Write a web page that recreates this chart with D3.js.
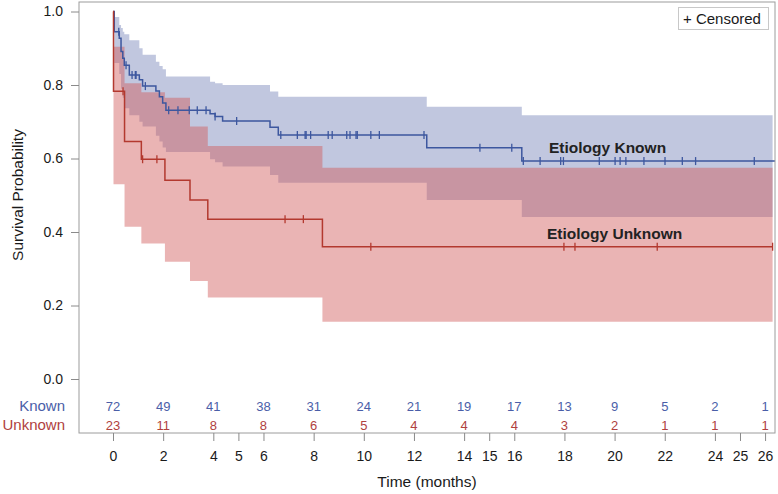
<!DOCTYPE html>
<html><head><meta charset="utf-8">
<script src="https://cdn.jsdelivr.net/npm/d3@7"></script>
<style>body{margin:0;background:#fff}svg{display:block;font-family:"Liberation Sans",Arial,sans-serif}</style>
</head><body><svg id="c" width="778" height="494"></svg>
<script>
// ---- data ----
const knownTime  = [0, 0.05, 0.25, 0.32, 0.39, 0.45, 0.65, 1.05, 1.18, 1.71, 1.85, 1.98, 2.11, 3.87, 4.07, 4.37, 6.26, 6.59, 12.51, 16.30];
const knownSurv  = [1, 0.945, 0.927, 0.891, 0.873, 0.854, 0.827, 0.814, 0.797, 0.784, 0.768, 0.751, 0.731, 0.722, 0.714, 0.702, 0.685, 0.664, 0.629, 0.593];
const knownUpper = [1, 0.985, 0.963, 0.955, 0.945, 0.938, 0.922, 0.900, 0.882, 0.863, 0.852, 0.843, 0.823, 0.809, 0.805, 0.800, 0.782, 0.768, 0.741, 0.718];
const knownLower = [1, 0.860, 0.830, 0.790, 0.765, 0.737, 0.718, 0.700, 0.687, 0.662, 0.646, 0.630, 0.618, 0.598, 0.590, 0.578, 0.555, 0.534, 0.487, 0.441];
const knownCensored = [0.23, 0.52, 0.76, 0.89, 0.92, 1.29, 2.22, 2.59, 3.04, 3.36, 3.71, 4.07, 4.93, 6.69, 7.35, 7.66, 7.70, 7.88, 8.58, 8.74, 9.32, 9.45, 9.69, 9.74, 10.28, 10.62, 12.40, 14.63, 15.90, 16.36, 17.03, 17.85, 17.96, 19.39, 20.02, 20.22, 20.45, 21.17, 22.01, 22.70, 23.23, 25.57];
const knownEnd = 26.4, knownBandEnd = 26.3;

const unknownTime  = [0, 0.02, 0.46, 1.13, 2.07, 3.07, 3.78, 8.35];
const unknownSurv  = [1, 0.783, 0.646, 0.598, 0.541, 0.487, 0.435, 0.360];
const unknownUpper = [1, 0.904, 0.805, 0.780, 0.765, 0.687, 0.634, 0.575];
const unknownLower = [1, 0.530, 0.414, 0.369, 0.319, 0.267, 0.222, 0.156];
const unknownCensored = [0.40, 1.18, 1.75, 6.86, 7.59, 10.28, 17.98, 18.42, 21.70, 26.30];
const unknownEnd = 26.3;

const riskTimes = [0, 2, 4, 6, 8, 10, 12, 14, 16, 18, 20, 22, 24, 26];
const riskKnown = [72, 49, 41, 38, 31, 24, 21, 19, 17, 13, 9, 5, 2, 1];
const riskUnknown = [23, 11, 8, 8, 6, 5, 4, 4, 4, 3, 2, 1, 1, 1];

const xTicks = [0, 2, 4, 5, 6, 8, 10, 12, 14, 15, 16, 18, 20, 22, 24, 25, 26];
const yTicks = [0, 0.2, 0.4, 0.6, 0.8, 1.0];

// ---- chart ----
const svg = d3.select("#c");
const x = d3.scaleLinear().domain([-1.356, 26.396]).range([79, 775]);
const y = d3.scaleLinear().domain([0, 1]).range([379, 11.5]);

const blueLine = "#3d579f", redLine = "#b3392f";

function rows(t, s, lo, hi, end) {
  const r = t.map((d, i) => ({t: d, s: s[i], lo: lo ? lo[i] : null, hi: hi ? hi[i] : null}));
  const last = r[r.length - 1];
  r.push({t: end, s: last.s, lo: last.lo, hi: last.hi});
  return r;
}
const area = d3.area().curve(d3.curveStepAfter).x(d => x(d.t)).y0(d => y(d.lo)).y1(d => y(d.hi));
const line = d3.line().curve(d3.curveStepAfter).x(d => x(d.t)).y(d => y(d.s));

svg.append("path").datum(rows(knownTime, knownSurv, knownLower, knownUpper, knownBandEnd))
  .attr("d", area).attr("fill", "#c1c7df");
svg.append("path").datum(rows(unknownTime, unknownSurv, unknownLower, unknownUpper, unknownEnd))
  .attr("d", area).attr("fill", "rgb(208,88,88)").attr("fill-opacity", 0.45);

svg.append("path").datum(rows(knownTime, knownSurv, null, null, knownEnd))
  .attr("d", line).attr("fill", "none").attr("stroke", blueLine).attr("stroke-width", 1.5);
svg.append("path").datum(rows(unknownTime, unknownSurv, null, null, unknownEnd))
  .attr("d", line).attr("fill", "none").attr("stroke", redLine).attr("stroke-width", 1.5);

function survAt(t, times, surv) {
  let v = surv[0];
  for (let i = 0; i < times.length; i++) if (times[i] <= t) v = surv[i];
  return v;
}
function censor(list, times, surv, col) {
  svg.append("g").selectAll("line").data(list).join("line")
    .attr("x1", d => x(d)).attr("x2", d => x(d))
    .attr("y1", d => y(survAt(d, times, surv)) - 4).attr("y2", d => y(survAt(d, times, surv)) + 4)
    .attr("stroke", col).attr("stroke-width", 1.3);
}
censor(knownCensored, knownTime, knownSurv, blueLine);
censor(unknownCensored, unknownTime, unknownSurv, redLine);

// frame
svg.append("rect").attr("x", 79).attr("y", 2).attr("width", 696).attr("height", 431)
  .attr("fill", "none").attr("stroke", "#9c9c9c").attr("stroke-width", 1);

// axes
const yAx = svg.append("g").attr("transform", "translate(79,0)")
  .call(d3.axisLeft(y).tickValues(yTicks).tickFormat(d3.format(".1f")).tickSize(8).tickPadding(8));
const xAx = svg.append("g").attr("transform", "translate(0,433)")
  .call(d3.axisBottom(x).tickValues(xTicks).tickSize(8).tickPadding(10));
[yAx, xAx].forEach(g => {
  g.select(".domain").remove();
  g.selectAll(".tick line").attr("stroke", "#8a8a8a");
  g.selectAll(".tick text").attr("fill", "#1a1a1a").style("font-size", "14px").style("font-family", "Liberation Sans, Arial, sans-serif");
});

svg.append("text").attr("transform", "translate(23,195) rotate(-90)").attr("text-anchor", "middle")
  .style("font-size", "15.5px").attr("fill", "#1a1a1a").text("Survival Probability");
svg.append("text").attr("x", 427).attr("y", 487).attr("text-anchor", "middle")
  .style("font-size", "15.5px").attr("fill", "#1a1a1a").text("Time (months)");

// risk table
svg.append("text").attr("x", 65).attr("y", 410.7).attr("text-anchor", "end").style("font-size", "15px").attr("fill", "#4a5ea8").text("Known");
svg.append("text").attr("x", 65).attr("y", 430.3).attr("text-anchor", "end").style("font-size", "15px").attr("fill", "#b0413e").text("Unknown");
svg.append("g").selectAll("text").data(riskTimes).join("text")
  .attr("x", d => x(d)).attr("y", 410.7).attr("text-anchor", "middle").style("font-size", "13px")
  .attr("fill", "#4a5ea8").text((d, i) => riskKnown[i]);
svg.append("g").selectAll("text").data(riskTimes).join("text")
  .attr("x", d => x(d)).attr("y", 430.3).attr("text-anchor", "middle").style("font-size", "13px")
  .attr("fill", "#b0413e").text((d, i) => riskUnknown[i]);

// curve labels
svg.append("text").attr("x", 549).attr("y", 152.5).style("font-size", "15.5px").style("font-weight", "bold")
  .attr("fill", "#222").text("Etiology Known");
svg.append("text").attr("x", 547).attr("y", 239.3).style("font-size", "15.5px").style("font-weight", "bold")
  .attr("fill", "#222").text("Etiology Unknown");

// legend
svg.append("rect").attr("x", 678.5).attr("y", 7.5).attr("width", 90).attr("height", 22)
  .attr("fill", "#fff").attr("stroke", "#c8c8c8");
svg.append("text").attr("x", 683).attr("y", 24.3).style("font-size", "15px").attr("fill", "#1a1a1a").text("+ Censored");
</script></body></html>
